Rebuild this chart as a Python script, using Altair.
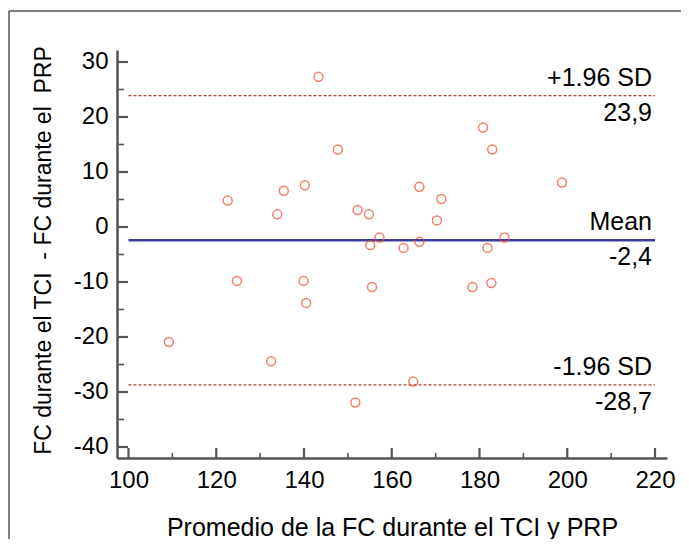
import altair as alt
import pandas as pd

# Bland-Altman data
mean_x = [109.2, 122.6, 124.7, 132.5, 133.9, 135.4, 140.2, 139.9, 140.5, 143.3,
          147.7, 152.2, 151.7, 154.8, 155.1, 155.5, 157.2, 162.7, 164.9, 166.3,
          166.3, 170.3, 171.3, 178.4, 180.8, 181.8, 182.9, 182.7, 185.7, 198.8]
diff_y = [-20.9, 4.8, -9.8, -24.4, 2.3, 6.6, 7.6, -9.8, -13.8, 27.3,
          14.1, 3.1, -31.9, 2.3, -3.3, -10.9, -1.9, -3.8, -28.1, 7.3,
          -2.7, 1.2, 5.1, -10.9, 18.1, -3.8, 14.1, -10.2, -1.9, 8.1]

limit_values = [23.9, -2.4, -28.7]
limit_names = ["+1.96 SD", "Mean", "-1.96 SD"]
limit_texts = ["23,9", "-2,4", "-28,7"]
limit_kind = ["sd", "mean", "sd"]

x_ticks = [100, 120, 140, 160, 180, 200, 220]
x_minor = [110, 130, 150, 170, 190, 210]
y_ticks = [-40, -30, -20, -10, 0, 10, 20, 30]
y_minor = [-35, -25, -15, -5, 5, 15, 25]

X_DOMAIN = [97.38, 222.73]
Y_DOMAIN = [-42.0, 32.18]
W, H = 550, 408
FONT = "Liberation Sans"

xs = alt.Scale(domain=X_DOMAIN, nice=False, zero=False)
ys = alt.Scale(domain=Y_DOMAIN, nice=False, zero=False)

pts = pd.DataFrame({"x": mean_x, "y": diff_y})
lim = pd.DataFrame({"v": limit_values, "name": limit_names,
                    "txt": limit_texts, "kind": limit_kind})

x_axis = alt.Axis(values=x_ticks, title="Promedio de la FC durante el TCI y PRP",
                  titleBaseline="alphabetic", titleY=77, titleX=W / 2,
                  labelPadding=10, labelExpr="'' + datum.value")
y_axis = alt.Axis(values=y_ticks,
                  title="FC durante el TCI\u00a0 - FC durante el\u00a0 PRP",
                  titleBaseline="alphabetic", titleX=-67, titleY=200,
                  titleAngle=-90, titleAlign="center", titleFontSize=23,
                  labelPadding=9, labelExpr="'' + datum.value")

points = alt.Chart(pts).mark_point(
    shape="circle", filled=False, size=80, strokeWidth=1.5, color="#ee4a2c"
).encode(
    x=alt.X("x:Q", scale=xs, axis=x_axis),
    y=alt.Y("y:Q", scale=ys, axis=y_axis),
)

mean_rule = alt.Chart(lim).transform_filter("datum.kind == 'mean'").mark_rule(
    color="#3d3d9e", strokeWidth=2.5
).encode(x=alt.datum(100, scale=xs), x2=alt.datum(220), y=alt.Y("v:Q", scale=ys))

sd_rule = alt.Chart(lim).transform_filter("datum.kind == 'sd'").mark_rule(
    color="#a8453d", strokeWidth=1.2, strokeDash=[3, 2]
).encode(x=alt.datum(100, scale=xs), x2=alt.datum(220), y=alt.Y("v:Q", scale=ys))

name_text = alt.Chart(lim).mark_text(
    align="right", baseline="alphabetic", dx=-3, dy=-10, fontSize=25,
    font=FONT, color="black"
).encode(x=alt.datum(220, scale=xs), y=alt.Y("v:Q", scale=ys), text="name:N")

value_text = alt.Chart(lim).mark_text(
    align="right", baseline="alphabetic", dx=-3, dy=25, fontSize=25,
    font=FONT, color="black"
).encode(x=alt.datum(220, scale=xs), y=alt.Y("v:Q", scale=ys), text="txt:N")

TICK_C = "#555555"
ytick_major = alt.Chart(pd.DataFrame({"t": y_ticks})).mark_rule(
    color=TICK_C, strokeWidth=2.2
).encode(y=alt.Y("t:Q", scale=ys), x=alt.value(0), x2=alt.value(11))
ytick_minor = alt.Chart(pd.DataFrame({"t": y_minor})).mark_rule(
    color=TICK_C, strokeWidth=1.6
).encode(y=alt.Y("t:Q", scale=ys), x=alt.value(0), x2=alt.value(7))
xtick_major = alt.Chart(pd.DataFrame({"t": x_ticks})).mark_rule(
    color=TICK_C, strokeWidth=2.2
).encode(x=alt.X("t:Q", scale=xs), y=alt.value(H), y2=alt.value(H - 10))
xtick_minor = alt.Chart(pd.DataFrame({"t": x_minor})).mark_rule(
    color=TICK_C, strokeWidth=1.6
).encode(x=alt.X("t:Q", scale=xs), y=alt.value(H), y2=alt.value(H - 5))

one = pd.DataFrame({"a": [0]})
frame_top = alt.Chart(one).mark_rule(color="#555555", strokeWidth=1.5).encode(
    x=alt.value(-108), x2=alt.value(564), y=alt.value(-39))
frame_left = alt.Chart(one).mark_rule(color="#555555", strokeWidth=1.5).encode(
    x=alt.value(-108), y=alt.value(-39), y2=alt.value(489))

chart = alt.layer(
    frame_top, frame_left,
    sd_rule, mean_rule,
    ytick_major, ytick_minor, xtick_major, xtick_minor,
    points, name_text, value_text,
).properties(
    width=W, height=H, autosize="none",
    padding={"left": 109, "top": 42, "right": 14, "bottom": 81},
    background="white",
).configure_view(stroke=None).configure_axis(
    domainColor="#555555", domainWidth=2.5, ticks=False, grid=False,
    labelFont=FONT, labelFontSize=24, labelColor="black",
    titleFont=FONT, titleFontSize=25, titleFontWeight="normal", titleColor="black",
)

chart.save("out.html", embed_options={"renderer": "svg", "actions": False})
